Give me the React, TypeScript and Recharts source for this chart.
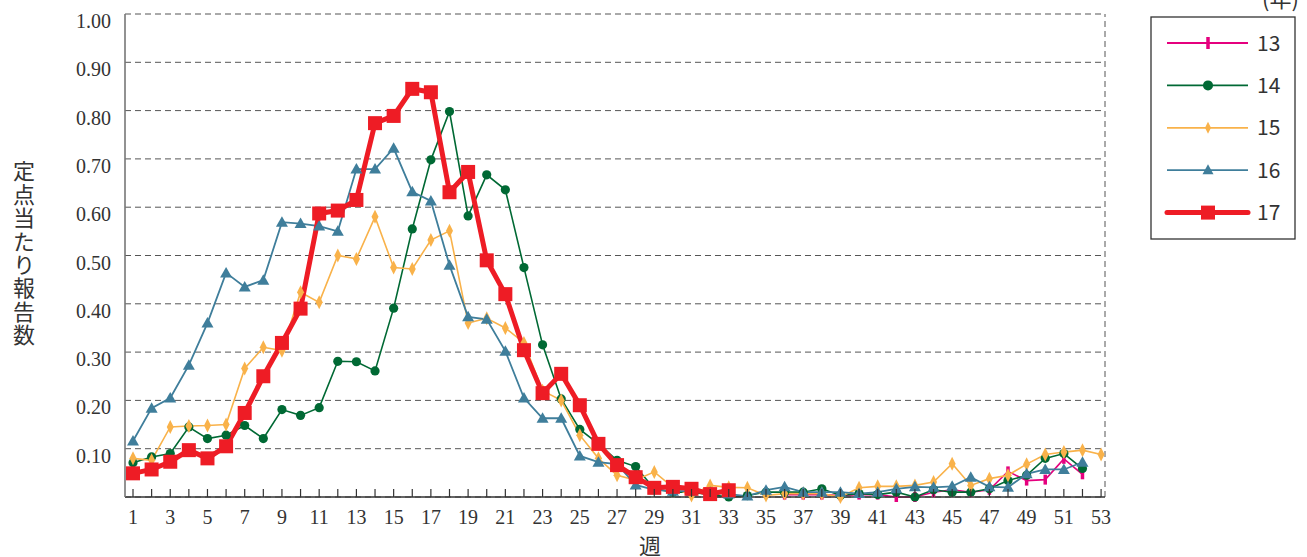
import React from 'react';
import { LineChart, Line, XAxis, YAxis, CartesianGrid, ReferenceLine } from 'recharts';

// week numbers on the x axis
const weeks = [
  1, 2, 3, 4, 5, 6, 7, 8, 9, 10, 11, 12, 13, 14, 15, 16, 17, 18, 19, 20,
  21, 22, 23, 24, 25, 26, 27, 28, 29, 30, 31, 32, 33, 34, 35, 36, 37, 38, 39, 40,
  41, 42, 43, 44, 45, 46, 47, 48, 49, 50, 51, 52, 53,
];

const yTicks = [0.1, 0.2, 0.3, 0.4, 0.5, 0.6, 0.7, 0.8, 0.9, 1.0];

// 定点当たり報告数, by year
const s13 = [
  null, null, null, null, null, null, null, null, null, null,
  null, null, null, null, null, null, null, null, null, null,
  null, null, null, null, null, null, null, null, null, null,
  null, null, null, null, null, 0.005, 0.005, 0.005, 0.003, 0.005,
  0.005, 0.0, 0.0, 0.01, 0.015, 0.01, 0.015, 0.053, 0.034, 0.036,
  0.079, 0.047, null,
];
const s14 = [
  0.071, 0.083, 0.09, 0.145, 0.121, 0.128, 0.148, 0.121, 0.181, 0.169,
  0.185, 0.281, 0.28, 0.261, 0.391, 0.555, 0.698, 0.798, 0.582, 0.667,
  0.636, 0.475, 0.315, 0.203, 0.14, 0.11, 0.076, 0.063, 0.017, 0.01,
  0.01, 0.005, 0.0, 0.003, 0.01, 0.01, 0.01, 0.017, 0.003, 0.007,
  0.005, 0.01, 0.0, 0.015, 0.01, 0.01, 0.017, 0.034, 0.045, 0.08,
  0.09, 0.059, null,
];
const s15 = [
  0.08, 0.076, 0.145, 0.147, 0.148, 0.15, 0.266, 0.31, 0.303, 0.424,
  0.403, 0.5, 0.493, 0.58, 0.475, 0.472, 0.532, 0.551, 0.36, 0.37,
  0.35, 0.319, 0.22, 0.2, 0.128, 0.08, 0.045, 0.035, 0.052, 0.02,
  0.003, 0.024, 0.02, 0.019, 0.003, 0.007, 0.007, 0.007, 0.0, 0.019,
  0.022, 0.022, 0.024, 0.031, 0.069, 0.024, 0.038, 0.045, 0.068, 0.088,
  0.093, 0.097, 0.088,
];
const s16 = [
  0.116, 0.184, 0.205, 0.273, 0.36, 0.464, 0.435, 0.449, 0.569, 0.566,
  0.561, 0.55, 0.679, 0.679, 0.722, 0.632, 0.613, 0.48, 0.373, 0.368,
  0.302, 0.205, 0.163, 0.163, 0.085, 0.072, 0.068, 0.025, 0.015, 0.012,
  0.012, 0.01, 0.006, 0.002, 0.014, 0.021, 0.01, 0.01, 0.01, 0.007,
  0.01, 0.017, 0.021, 0.02, 0.022, 0.041, 0.021, 0.02, 0.048, 0.057,
  0.057, 0.072, null,
];
const s17 = [
  0.049, 0.057, 0.073, 0.097, 0.08, 0.105, 0.174, 0.25, 0.319, 0.39,
  0.587, 0.593, 0.615, 0.774, 0.789, 0.845, 0.838, 0.631, 0.673, 0.49,
  0.42, 0.304, 0.215, 0.255, 0.19, 0.11, 0.066, 0.041, 0.019, 0.021,
  0.017, 0.006, 0.014, null, null, null, null, null, null, null,
  null, null, null, null, null, null, null, null, null, null,
  null, null, null,
];

const rows = weeks.map((w, i) => ({
  week: w,
  y13: s13[i],
  y14: s14[i],
  y15: s15[i],
  y16: s16[i],
  y17: s17[i],
}));

const C13 = '#e5007e';
const C14 = '#006934';
const C15 = '#f9b24a';
const C16 = '#3f7e9b';
const C17 = '#ee1c25';

const serif = '"Liberation Serif", "DejaVu Serif", serif';
const sans = '"Noto Sans CJK JP", "Noto Sans", sans-serif';

const barDot = (p: any) => {
  if (p.cx == null || p.cy == null) return <g key={`b${p.index}`} />;
  return <rect key={`b${p.index}`} x={p.cx - 1.75} y={p.cy - 5} width={3.5} height={10} fill={C13} />;
};
const circleDot = (p: any) => {
  if (p.cx == null || p.cy == null) return <g key={`c${p.index}`} />;
  return <circle key={`c${p.index}`} cx={p.cx} cy={p.cy} r={4.6} fill={C14} />;
};
const diamondDot = (p: any) => {
  if (p.cx == null || p.cy == null) return <g key={`d${p.index}`} />;
  const { cx, cy } = p;
  return (
    <path
      key={`d${p.index}`}
      d={`M${cx},${cy - 7} L${cx + 3.5},${cy} L${cx},${cy + 7} L${cx - 3.5},${cy} Z`}
      fill={C15}
    />
  );
};
const triDot = (p: any) => {
  if (p.cx == null || p.cy == null) return <g key={`t${p.index}`} />;
  const { cx, cy } = p;
  return (
    <path
      key={`t${p.index}`}
      d={`M${cx},${cy - 6} L${cx + 6},${cy + 4.5} L${cx - 6},${cy + 4.5} Z`}
      fill={C16}
    />
  );
};
const squareDot = (p: any) => {
  if (p.cx == null || p.cy == null) return <g key={`s${p.index}`} />;
  return <rect key={`s${p.index}`} x={p.cx - 7} y={p.cy - 7} width={14} height={14} fill={C17} />;
};

const XTick = (props: any) => {
  const { x, y, payload } = props;
  const v = payload.value;
  return (
    <g>
      <line x1={x} x2={x} y1={y} y2={y - 8} stroke="#333" strokeWidth={1.2} />
      {v % 2 === 1 && (
        <text x={x} y={y + 27} textAnchor="middle" fontFamily={serif} fontSize={20} fill="#333">
          {v}
        </text>
      )}
    </g>
  );
};

const YTick = (props: any) => {
  const { x, y, payload } = props;
  return (
    <text x={x - 14} y={y + 14} textAnchor="end" fontFamily={serif} fontSize={20} fill="#333">
      {payload.value.toFixed(2)}
    </text>
  );
};

const legendItems = [
  { name: '13', color: C13, width: 1.8, mark: 'bar' },
  { name: '14', color: C14, width: 1.8, mark: 'circle' },
  { name: '15', color: C15, width: 1.8, mark: 'diamond' },
  { name: '16', color: C16, width: 1.8, mark: 'tri' },
  { name: '17', color: C17, width: 5, mark: 'square' },
];

const LegendBox = () => (
  <svg width={146} height={226} style={{ position: 'absolute', left: 1150, top: 16 }}>
    <rect x={1} y={1} width={144} height={222} fill="#fff" stroke="#333" strokeWidth={1.3} />
    {legendItems.map((it, i) => {
      const cy = 27 + i * 42.4;
      const mx = 58;
      let mark: React.ReactNode = null;
      if (it.mark === 'bar') mark = <rect x={mx - 1.75} y={cy - 6} width={3.5} height={12} fill={it.color} />;
      if (it.mark === 'circle') mark = <circle cx={mx} cy={cy} r={5} fill={it.color} />;
      if (it.mark === 'diamond')
        mark = <path d={`M${mx},${cy - 6} L${mx + 3},${cy} L${mx},${cy + 6} L${mx - 3},${cy} Z`} fill={it.color} />;
      if (it.mark === 'tri')
        mark = <path d={`M${mx},${cy - 6} L${mx + 5.5},${cy + 4} L${mx - 5.5},${cy + 4} Z`} fill={it.color} />;
      if (it.mark === 'square') mark = <rect x={mx - 7} y={cy - 7} width={14} height={14} fill={it.color} />;
      return (
        <g key={it.name}>
          <line
            x1={17}
            x2={98}
            y1={cy}
            y2={cy}
            stroke={it.color}
            strokeWidth={it.width}
            strokeLinecap={it.mark === 'square' ? 'round' : 'butt'}
          />
          {mark}
          <text x={107} y={cy + 7.5} fontFamily={sans} fontSize={21} fill="#333">
            {it.name}
          </text>
        </g>
      );
    })}
  </svg>
);

export default function App() {
  return (
    <div
      style={{
        position: 'fixed',
        left: 0,
        top: 0,
        width: 1307,
        height: 557,
        background: '#fff',
        overflow: 'hidden',
      }}
    >
      <LineChart width={1307} height={557} data={rows} margin={{ top: 14, right: 202, bottom: 30, left: 0 }}>
        <CartesianGrid vertical={false} stroke="#555" strokeDasharray="6 4" />
        <XAxis
          type="number"
          dataKey="week"
          domain={[0.57, 53.21]}
          ticks={weeks}
          interval={0}
          height={30}
          tickSize={0}
          tickMargin={0}
          tickLine={false}
          tick={<XTick />}
          axisLine={{ stroke: '#333', strokeWidth: 1.6 }}
        />
        <YAxis
          type="number"
          domain={[0, 1]}
          ticks={yTicks}
          interval={0}
          width={125}
          tickSize={0}
          tickMargin={0}
          tickLine={false}
          tick={<YTick />}
          axisLine={{ stroke: '#777', strokeWidth: 1.6 }}
        />
        <ReferenceLine x={53.21} stroke="#555" strokeDasharray="6 4" />
        <Line dataKey="y13" stroke={C13} strokeWidth={1.6} dot={barDot} activeDot={false} isAnimationActive={false} />
        <Line dataKey="y14" stroke={C14} strokeWidth={1.6} dot={circleDot} activeDot={false} isAnimationActive={false} />
        <Line dataKey="y15" stroke={C15} strokeWidth={1.6} dot={diamondDot} activeDot={false} isAnimationActive={false} />
        <Line dataKey="y16" stroke={C16} strokeWidth={1.8} dot={triDot} activeDot={false} isAnimationActive={false} />
        <Line dataKey="y17" stroke={C17} strokeWidth={5} dot={squareDot} activeDot={false} isAnimationActive={false} />
      </LineChart>

      <LegendBox />

      <div
        style={{
          position: 'absolute',
          left: 1262,
          top: -14,
          fontFamily: sans,
          fontSize: 22,
          lineHeight: '22px',
          color: '#333',
        }}
      >
        (年)
      </div>

      <div
        style={{
          position: 'absolute',
          left: 12,
          top: 160,
          fontFamily: sans,
          fontSize: 22,
          lineHeight: '24px',
          letterSpacing: '1.4px',
          writingMode: 'vertical-rl',
          color: '#333',
        }}
      >
        定点当たり報告数
      </div>

      <div
        style={{
          position: 'absolute',
          left: 639,
          top: 533,
          fontFamily: sans,
          fontSize: 22,
          lineHeight: '22px',
          color: '#333',
        }}
      >
        週
      </div>
    </div>
  );
}
